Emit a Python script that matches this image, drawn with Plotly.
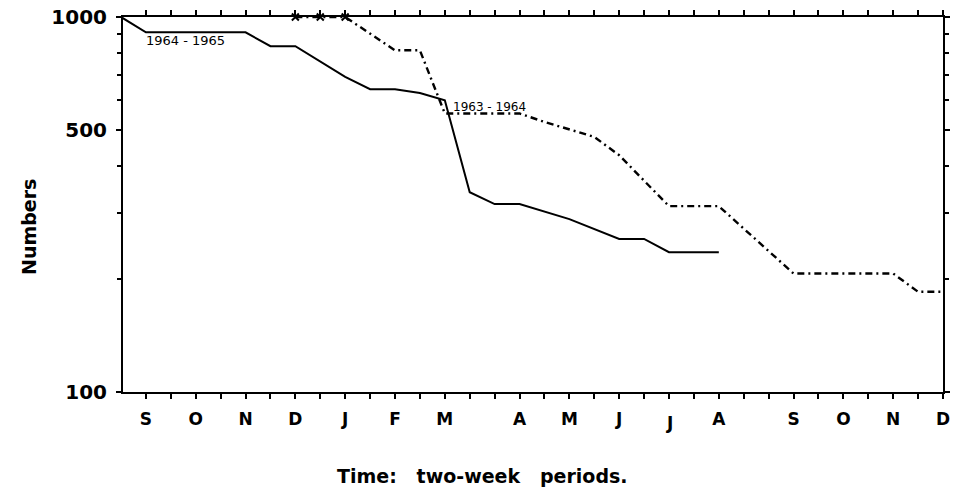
import math
import plotly.graph_objects as go

# ---- data (two-week period index, 0 = first September tick) ----
solid_x = [-1, 0, 4, 5, 6, 8, 9, 10, 11, 12, 13, 14, 15, 17, 19, 20, 21, 23]
solid_y = [1000, 910, 910, 836, 836, 692, 642, 642, 627, 600, 341, 317, 317, 289, 256, 256, 236, 236]

dash_x = [6, 7, 8, 10, 11, 12, 15, 16, 17, 18, 19, 20, 21, 23, 26, 30, 31, 32]
dash_y = [1000, 1000, 1000, 815, 815, 553, 553, 525, 502, 479, 428, 367, 313, 313, 207, 207, 185, 185]

marker_count = 3  # points drawn with an "x" along the top

month_pos = [0, 2, 4, 6, 8, 10, 12, 15, 17, 19, 21, 23, 26, 28, 30, 32]
month_lab = ["S", "O", "N", "D", "J", "F", "M", "A", "M", "J", "J", "A", "S", "O", "N", "D"]

y_major = [100, 500, 1000]
y_minor = [200, 300, 400, 600, 700, 800, 900]

label_a = "1964 - 1965"
label_b = "1963 - 1964"

FONT = "DejaVu Sans"

tick_vals = list(range(0, 33))
tick_text = []
for v in tick_vals:
    if v in month_pos and v != 21:
        tick_text.append("<b>%s</b>" % month_lab[month_pos.index(v)])
    else:
        tick_text.append("")

fig = go.Figure()
fig.add_trace(go.Scatter(x=solid_x, y=solid_y, mode="lines",
                         line=dict(color="black", width=2), showlegend=False))
fig.add_trace(go.Scatter(x=dash_x, y=dash_y, mode="lines",
                         line=dict(color="black", width=2.4, dash="7px,4px,2px,4px"),
                         showlegend=False))
fig.add_trace(go.Scatter(x=dash_x[:marker_count], y=dash_y[:marker_count], mode="markers",
                         marker=dict(symbol="x-thin", size=7, line=dict(color="black", width=2)),
                         cliponaxis=False, showlegend=False))

fig.update_layout(
    width=953, height=500,
    margin=dict(l=123, r=10, t=16.7, b=107.5),
    paper_bgcolor="white", plot_bgcolor="white",
    font=dict(family=FONT, color="black"),
    xaxis=dict(range=[-0.92, 32], showgrid=False, zeroline=False, automargin=False,
               showline=True, linecolor="black", linewidth=2, mirror="allticks",
               ticks="outside", ticklen=5, tickwidth=1.5, tickcolor="black",
               tickvals=tick_vals, ticktext=tick_text, ticklabeloverflow="allow",
               tickfont=dict(family=FONT, size=17, color="black"),
               ticklabelstandoff=6),
    yaxis=dict(type="log", range=[2, 3], showgrid=False, zeroline=False, automargin=False,
               showline=True, linecolor="black", linewidth=2, mirror="allticks",
               ticks="outside", ticklen=5, tickwidth=1.5, tickcolor="black",
               tickvals=y_major, ticktext=["<b>%d</b>" % v for v in y_major],
               ticklabeloverflow="allow",
               tickfont=dict(family=FONT, size=20, color="black"),
               ticklabelstandoff=5,
               minor=dict(tickvals=y_minor, ticks="outside", ticklen=4,
                          tickwidth=1.5, tickcolor="black", showgrid=False)),
)

ann = []
# July label sits slightly lower in the original
ann.append(dict(x=month_pos[10], xref="x", y=0, yref="paper", yanchor="top",
                yshift=-19, showarrow=False,
                text="<b>%s</b>" % month_lab[10],
                font=dict(family=FONT, size=17, color="black")))
ann.append(dict(x=1.58, y=math.log10(867), xref="x", yref="y", showarrow=False,
                text=label_a, font=dict(family=FONT, size=13, color="black")))
ann.append(dict(x=13.78, y=math.log10(575), xref="x", yref="y", showarrow=False,
                text=label_b, font=dict(family=FONT, size=12, color="black")))
ann.append(dict(x=0.439, y=-0.259, xref="paper", yref="paper", showarrow=False,
                text="<b>Time:\u00a0\u00a0 two-week\u00a0\u00a0 periods.</b>",
                font=dict(family=FONT, size=19, color="black")))
ann.append(dict(x=0, y=0.44, xref="paper", yref="paper", xshift=-107, showarrow=False,
                textangle=-90, text="<b>Numbers</b>",
                font=dict(family=FONT, size=19, color="black")))
fig.update_layout(annotations=ann)

fig.write_html("out.html", config={"displayModeBar": False},
               post_script="document.body.style.margin='0';document.body.style.overflow='hidden';")
